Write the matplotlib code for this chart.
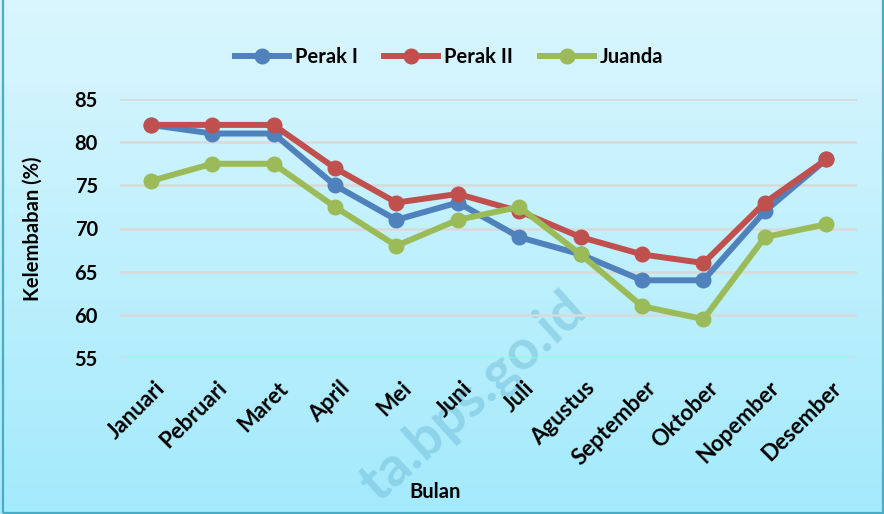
import numpy as np
import matplotlib
matplotlib.use("Agg")
import matplotlib.pyplot as plt
from matplotlib.lines import Line2D
from matplotlib.patches import Rectangle
import matplotlib.transforms as mtransforms

months = ["Januari", "Pebruari", "Maret", "April", "Mei", "Juni", "Juli",
          "Agustus", "September", "Oktober", "Nopember", "Desember"]
perak1 = [82, 81, 81, 75, 71, 73, 69, 67, 64, 64, 72, 78]
perak2 = [82, 82, 82, 77, 73, 74, 72, 69, 67, 66, 73, 78]
juanda = [75.5, 77.5, 77.5, 72.5, 68, 71, 72.5, 67, 61, 59.5, 69, 70.5]
series_names = ["Perak I", "Perak II", "Juanda"]
colors = ["#4F81BD", "#C0504D", "#9BBB59"]
yticks = [55, 60, 65, 70, 75, 80, 85]

FONT = "Lato"
W, H = 884, 514
fig = plt.figure(figsize=(W / 100, H / 100), dpi=100)

# background gradient
bg = fig.add_axes([0, 0, 1, 1], zorder=-10)
grad = np.linspace(0, 1, 256).reshape(-1, 1)
top = np.array([0xDA, 0xF6, 0xFE]) / 255
bot = np.array([0xA3, 0xEA, 0xFC]) / 255
img = top[None, None, :] * (1 - grad[:, :, None]) + bot[None, None, :] * grad[:, :, None]
bg.imshow(img, aspect="auto", extent=[0, 1, 0, 1], origin="upper")
bg.set_axis_off()

# border
fig.patches.append(Rectangle((3 / W, 1.5 / H), (W - 4.5) / W, 1.2, transform=fig.transFigure,
                             fill=False, edgecolor="#4BACC6", linewidth=1.6, zorder=-5))

# watermark
fig.text(588 / W, 1 - 314 / H, "ta.bps.go.id", rotation=42, rotation_mode="anchor",
         ha="right", va="baseline", fontsize=40, fontweight="bold", family=FONT,
         color="#72BCD6", alpha=0.5, zorder=-4)

ax = fig.add_axes([120 / W, 1 - 358 / H, (857 - 120) / W, (358 - 99) / H])
ax.patch.set_alpha(0)
x = np.arange(len(months))
for vals, c, name in zip([perak1, perak2, juanda], colors, series_names):
    ax.plot(x, vals, color=c, linewidth=4.3, marker="o", markersize=10.5,
            label=name, clip_on=False, zorder=3)

ax.set_xlim(-0.5, len(months) - 0.5)
ax.set_ylim(55, 85)
ax.set_yticks(yticks)
ax.set_yticklabels([str(v) for v in yticks], fontsize=14.5, fontweight="bold", family=FONT)
ax.grid(axis="y", color="#D9D9D9", linewidth=1.8, zorder=0)
ax.set_axisbelow(True)
for s in ax.spines.values():
    s.set_visible(False)
ax.tick_params(axis="both", length=0)
ax.tick_params(axis="y", pad=16)
ax.set_xticks(x)
ax.set_xticklabels(months, rotation=45, ha="right", va="top", rotation_mode="anchor",
                   fontsize=16, fontweight="bold", family=FONT)
ax.tick_params(axis="x", pad=14)
offset = mtransforms.ScaledTranslation(4 / 100, 0, fig.dpi_scale_trans)
for lab in ax.get_xticklabels():
    lab.set_transform(lab.get_transform() + offset)

fig.text(435 / W, 1 - 492 / H, "Bulan", ha="center", va="center", fontsize=14.5,
         fontweight="bold", family=FONT)
fig.text(33 / W, 1 - 229 / H, "Kelembaban (%)", ha="center", va="center", rotation=90,
         fontsize=14.5, fontweight="bold", family=FONT)

handles = [Line2D([], [], color=c, linewidth=4.3, marker="o", markersize=10.5) for c in colors]
leg = fig.legend(handles, series_names, loc="center", bbox_to_anchor=(449 / W, 1 - 57 / H),
                 ncol=3, frameon=False, handlelength=2.7, handletextpad=0.3,
                 columnspacing=1.3, prop={"family": FONT, "weight": "bold", "size": 14.5})

fig.savefig("out.png", dpi=100)
